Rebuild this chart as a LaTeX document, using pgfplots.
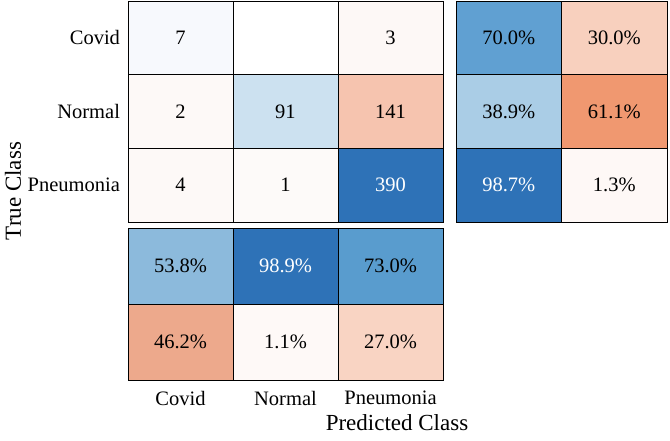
\documentclass[border=0pt]{standalone}
\usepackage{pgfplots}
\pgfplotsset{compat=1.18}
\usepackage{fontspec}
\setmainfont{Liberation Serif}
\definecolor{c11}{RGB}{247,249,253}
\definecolor{c12}{RGB}{255,255,255}
\definecolor{c13}{RGB}{253,248,246}
\definecolor{c21}{RGB}{253,249,247}
\definecolor{c22}{RGB}{204,225,240}
\definecolor{c23}{RGB}{246,196,175}
\definecolor{c31}{RGB}{253,249,247}
\definecolor{c32}{RGB}{253,250,249}
\definecolor{c33}{RGB}{46,114,183}
\definecolor{r11}{RGB}{96,160,210}
\definecolor{r12}{RGB}{248,208,190}
\definecolor{r21}{RGB}{170,205,230}
\definecolor{r22}{RGB}{240,152,112}
\definecolor{r31}{RGB}{46,114,183}
\definecolor{r32}{RGB}{254,248,246}
\definecolor{k11}{RGB}{140,186,220}
\definecolor{k12}{RGB}{46,114,183}
\definecolor{k13}{RGB}{89,156,206}
\definecolor{k21}{RGB}{237,169,140}
\definecolor{k22}{RGB}{254,249,247}
\definecolor{k23}{RGB}{249,212,195}
\newcommand{\cell}[3]{\addplot[fill=#3,draw=black,line width=0.8pt] coordinates {(#1-0.5,#2-0.5) (#1+0.5,#2-0.5) (#1+0.5,#2+0.5) (#1-0.5,#2+0.5)} -- cycle;}
\begin{document}
\fontsize{20.5}{24}\selectfont
\begin{tikzpicture}
\path[use as bounding box] (0pt,0pt) rectangle (670pt,-440pt);
\pgfplotsset{cm/.style={scale only axis, major tick length=0pt,
  axis line style={black,line width=0.8pt}, tick label style={font=\fontsize{20.5}{24}\selectfont},
  clip=false, anchor=north west}}
% main matrix
\begin{axis}[cm, y dir=reverse, at={(128pt,-1pt)}, width=315pt, height=221pt,
  xmin=0.5,xmax=3.5,ymin=0.5,ymax=3.5,
  xtick=\empty, ytick={1,2,3}, yticklabels={Covid,Normal,Pneumonia},
  yticklabel style={xshift=-1pt}]
\cell{1}{1}{c11}\cell{2}{1}{c12}\cell{3}{1}{c13}
\cell{1}{2}{c21}\cell{2}{2}{c22}\cell{3}{2}{c23}
\cell{1}{3}{c31}\cell{2}{3}{c32}\cell{3}{3}{c33}
\node at (axis cs:1,1) {7};
\node at (axis cs:3,1) {3};
\node at (axis cs:1,2) {2};
\node at (axis cs:2,2) {91};
\node at (axis cs:3,2) {141};
\node at (axis cs:1,3) {4};
\node at (axis cs:2,3) {1};
\node[white] at (axis cs:3,3) {390};
\end{axis}
% row summary
\begin{axis}[cm, y dir=reverse, at={(456pt,-1pt)}, width=211pt, height=221pt,
  xmin=0.5,xmax=2.5,ymin=0.5,ymax=3.5, xtick=\empty, ytick=\empty]
\cell{1}{1}{r11}\cell{2}{1}{r12}
\cell{1}{2}{r21}\cell{2}{2}{r22}
\cell{1}{3}{r31}\cell{2}{3}{r32}
\node at (axis cs:1,1) {70.0\%};
\node at (axis cs:2,1) {30.0\%};
\node at (axis cs:1,2) {38.9\%};
\node at (axis cs:2,2) {61.1\%};
\node[white] at (axis cs:1,3) {98.7\%};
\node at (axis cs:2,3) {1.3\%};
\end{axis}
% column summary (row 1 at y=2, row 2 at y=1)
\begin{axis}[cm, at={(128pt,-228pt)}, width=315pt, height=152pt,
  xmin=0.5,xmax=3.5,ymin=0.5,ymax=2.5, ytick=\empty,
  xtick={1,2,3}, xticklabels={Covid,Normal,Pneumonia},
  xticklabel style={yshift=-4pt}]
\cell{1}{2}{k11}\cell{2}{2}{k12}\cell{3}{2}{k13}
\cell{1}{1}{k21}\cell{2}{1}{k22}\cell{3}{1}{k23}
\node at (axis cs:1,2) {53.8\%};
\node[white] at (axis cs:2,2) {98.9\%};
\node at (axis cs:3,2) {73.0\%};
\node at (axis cs:1,1) {46.2\%};
\node at (axis cs:2,1) {1.1\%};
\node at (axis cs:3,1) {27.0\%};
\end{axis}
\node[rotate=90,font=\fontsize{23}{27}\selectfont] at (13pt,-191pt) {True Class};
\node[font=\fontsize{23}{27}\selectfont] at (397pt,-423pt) {Predicted Class};
\end{tikzpicture}
\end{document}
